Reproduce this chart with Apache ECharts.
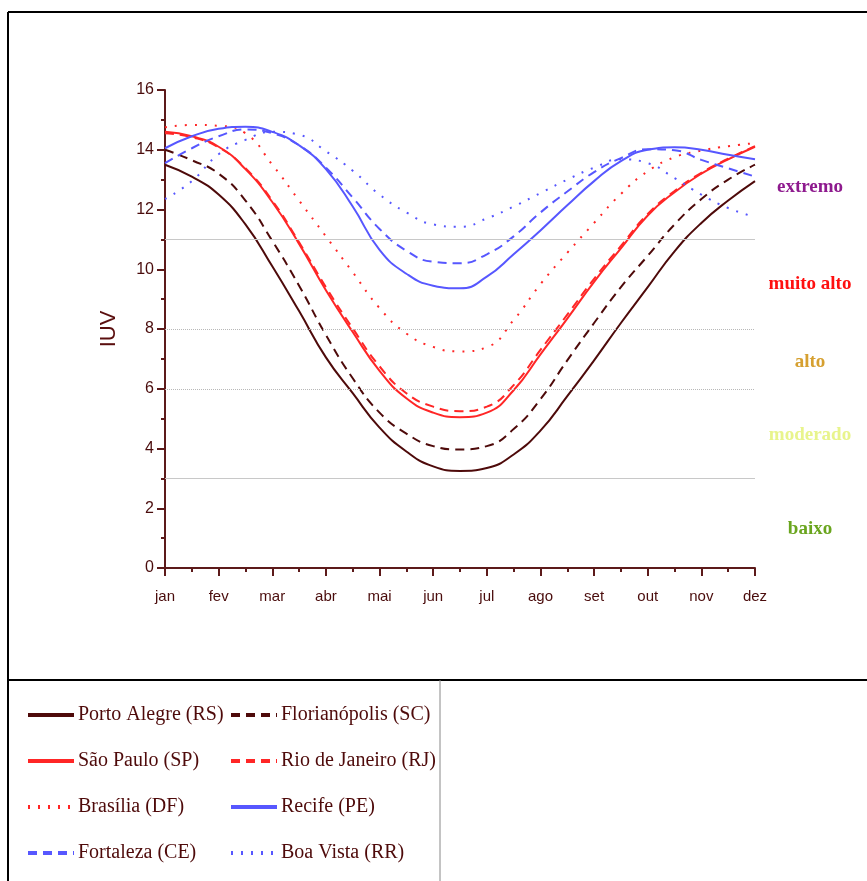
<!DOCTYPE html>
<html>
<head>
<meta charset="utf-8">
<title>IUV</title>
<script src="https://cdn.jsdelivr.net/npm/echarts@6/dist/echarts.min.js"></script>
<style>
    html, body { margin: 0; padding: 0; background: #fff; }
    #chart { width: 867px; height: 881px; }
</style>
</head>
<body>
<div id="chart"></div>
<script>
'use strict';

// month labels and the half-month positions that the curves are read at
var months = ['jan', 'fev', 'mar', 'abr', 'mai', 'jun', 'jul', 'ago', 'set', 'out', 'nov', 'dez'];
var xPos = [0, 0.5, 1, 1.5, 2, 2.5, 3, 3.5, 4, 4.5, 5, 5.5, 6, 6.5, 7, 7.5, 8, 8.5, 9, 9.5, 10, 10.5, 11];

var portoAlegre   = [13.5, 13.1, 12.5, 11.5, 10.1, 8.6, 7.05, 5.85, 4.7, 3.9, 3.4, 3.25, 3.35, 3.8, 4.6, 5.75, 6.95, 8.2, 9.4, 10.6, 11.55, 12.3, 12.95];
var florianopolis = [14.0, 13.65, 13.2, 12.3, 10.95, 9.45, 7.8, 6.35, 5.2, 4.5, 4.08, 3.97, 4.08, 4.65, 5.65, 6.95, 8.2, 9.4, 10.45, 11.5, 12.35, 13.0, 13.5];
var saoPaulo      = [14.6, 14.45, 14.1, 13.35, 12.25, 10.85, 9.3, 7.9, 6.6, 5.68, 5.2, 5.05, 5.2, 5.95, 7.15, 8.35, 9.58, 10.7, 11.8, 12.58, 13.2, 13.68, 14.1];
var rioDeJaneiro  = [14.55, 14.42, 14.08, 13.38, 12.3, 10.9, 9.4, 8.02, 6.75, 5.85, 5.4, 5.25, 5.4, 6.12, 7.3, 8.48, 9.68, 10.78, 11.85, 12.62, 13.23, 13.7, 14.12];
var brasilia      = [14.75, 14.83, 14.8, 14.55, 13.5, 12.3, 11.1, 9.9, 8.7, 7.85, 7.4, 7.25, 7.39, 8.3, 9.5, 10.55, 11.55, 12.52, 13.28, 13.75, 13.97, 14.12, 14.22];
var recife        = [14.05, 14.45, 14.7, 14.77, 14.6, 14.15, 13.35, 12.1, 10.65, 9.85, 9.45, 9.36, 9.75, 10.5, 11.3, 12.14, 12.95, 13.62, 14.0, 14.08, 14.0, 13.83, 13.68];
var fortaleza     = [13.55, 14.05, 14.45, 14.68, 14.55, 14.15, 13.4, 12.4, 11.35, 10.62, 10.25, 10.2, 10.5, 11.1, 11.9, 12.6, 13.25, 13.72, 14.02, 13.98, 13.66, 13.38, 13.1];
var boaVista      = [12.35, 12.95, 13.85, 14.33, 14.6, 14.5, 13.95, 13.3, 12.5, 11.9, 11.5, 11.42, 11.7, 12.1, 12.55, 13.0, 13.4, 13.68, 13.55, 13.05, 12.5, 12.05, 11.75];

// risk category limits and their labels
var solidLimits = [3, 11];
var dottedLimits = [6, 8];
var zoneNames = ['extremo', 'muito alto', 'alto', 'moderado', 'baixo'];
var zoneLevels = [12.75, 9.5, 6.9, 4.45, 1.3];
var zoneColors = ['#8e1a8e', '#ff1010', '#d6a030', '#e8f48c', '#6aa51e'];

var brown = '#4e0a0a';
var red = '#ff2626';
var blue = '#5757ff';
var axisColor = '#5c1a1a';

function pairs(values) {
    return values.map(function (v, i) { return [xPos[i], v]; });
}

function makeSeries(name, values, color, type) {
    var dash = 'solid';
    if (type === 'dashed') { dash = [9, 6]; }
    if (type === 'dotted') { dash = [2, 8]; }
    return {
        name: name,
        type: 'line',
        smooth: 0.5,
        symbol: 'none',
        data: pairs(values),
        lineStyle: { color: color, width: 2, type: dash },
        itemStyle: { color: color },
        z: 3
    };
}

var series = [
    makeSeries('Porto Alegre (RS)', portoAlegre, brown, 'solid'),
    makeSeries('Florianópolis (SC)', florianopolis, brown, 'dashed'),
    makeSeries('São Paulo (SP)', saoPaulo, red, 'solid'),
    makeSeries('Rio de Janeiro (RJ)', rioDeJaneiro, red, 'dashed'),
    makeSeries('Brasília (DF)', brasilia, red, 'dotted'),
    makeSeries('Recife (PE)', recife, blue, 'solid'),
    makeSeries('Fortaleza (CE)', fortaleza, blue, 'dashed'),
    makeSeries('Boa Vista (RR)', boaVista, blue, 'dotted')
];

// category limit lines hang on the first series
series[0].markLine = {
    silent: true,
    symbol: 'none',
    label: { show: false },
    data: solidLimits.map(function (v) {
        return { yAxis: v, lineStyle: { color: '#c8c8c8', width: 1, type: 'solid' } };
    }).concat(dottedLimits.map(function (v) {
        return { yAxis: v, lineStyle: { color: '#b8b8b8', width: 1, type: [1, 1] } };
    }))
};

function makeLegend(left, names) {
    return {
        orient: 'vertical',
        left: left,
        top: 703,
        padding: 0,
        itemWidth: 46,
        itemHeight: 14,
        itemGap: 22,
        itemStyle: { opacity: 0 },
        lineStyle: { width: 4 },
        textStyle: { color: brown, fontFamily: 'Liberation Serif', fontSize: 20, lineHeight: 24, padding: [0, 0, 0, -1] },
        data: names
    };
}

var chart = echarts.init(document.getElementById('chart'));

chart.setOption({
    backgroundColor: '#fff',
    animation: false,
    grid: { left: 165, right: 112, top: 90, bottom: 313 },
    xAxis: {
        type: 'value',
        min: 0,
        max: 11,
        interval: 1,
        axisLine: { lineStyle: { color: axisColor, width: 2 } },
        axisTick: { length: 8, lineStyle: { color: axisColor, width: 2 } },
        minorTick: { show: true, splitNumber: 2, length: 4, lineStyle: { color: axisColor, width: 2 } },
        splitLine: { show: false },
        axisLabel: {
            color: '#4a0c0c',
            fontFamily: 'Liberation Sans',
            fontSize: 15,
            margin: 21,
            formatter: function (v) { return months[v]; }
        }
    },
    yAxis: {
        type: 'value',
        min: 0,
        max: 16,
        interval: 2,
        name: 'IUV',
        nameLocation: 'middle',
        nameGap: 45,
        nameRotate: 90,
        nameTextStyle: { color: '#5a0e0e', fontFamily: 'Liberation Sans', fontSize: 22 },
        axisLine: { show: true, lineStyle: { color: axisColor, width: 2 } },
        axisTick: { show: true, length: 8, lineStyle: { color: axisColor, width: 2 } },
        minorTick: { show: true, splitNumber: 2, length: 4, lineStyle: { color: axisColor, width: 2 } },
        splitLine: { show: false },
        axisLabel: { color: '#4a0c0c', fontFamily: 'Liberation Sans', fontSize: 16, margin: 11 }
    },
    legend: [
        makeLegend(26, ['Porto Alegre (RS)', 'São Paulo (SP)', 'Brasília (DF)', 'Fortaleza (CE)']),
        makeLegend(229, ['Florianópolis (SC)', 'Rio de Janeiro (RJ)', 'Recife (PE)', 'Boa Vista (RR)'])
    ],
    series: series
});

// frame lines plus the zone labels on the right, placed through the y axis
var frame = [
    { type: 'line', shape: { x1: 8, y1: 12, x2: 867, y2: 12 }, style: { stroke: '#000', lineWidth: 2 } },
    { type: 'line', shape: { x1: 8, y1: 12, x2: 8, y2: 881 }, style: { stroke: '#000', lineWidth: 2 } },
    { type: 'line', shape: { x1: 8, y1: 680, x2: 867, y2: 680 }, style: { stroke: '#000', lineWidth: 2 } },
    { type: 'line', shape: { x1: 440, y1: 680, x2: 440, y2: 881 }, style: { stroke: '#888', lineWidth: 1 } }
];

var labelX = chart.convertToPixel({ xAxisIndex: 0 }, 11) + 55;
var zoneLabels = zoneNames.map(function (name, i) {
    return {
        type: 'text',
        x: labelX,
        y: chart.convertToPixel({ yAxisIndex: 0 }, zoneLevels[i]),
        style: {
            text: name,
            fill: zoneColors[i],
            font: 'bold 19px "Liberation Serif"',
            align: 'center',
            verticalAlign: 'middle'
        }
    };
});

chart.setOption({ graphic: frame.concat(zoneLabels) });
</script>
</body>
</html>
